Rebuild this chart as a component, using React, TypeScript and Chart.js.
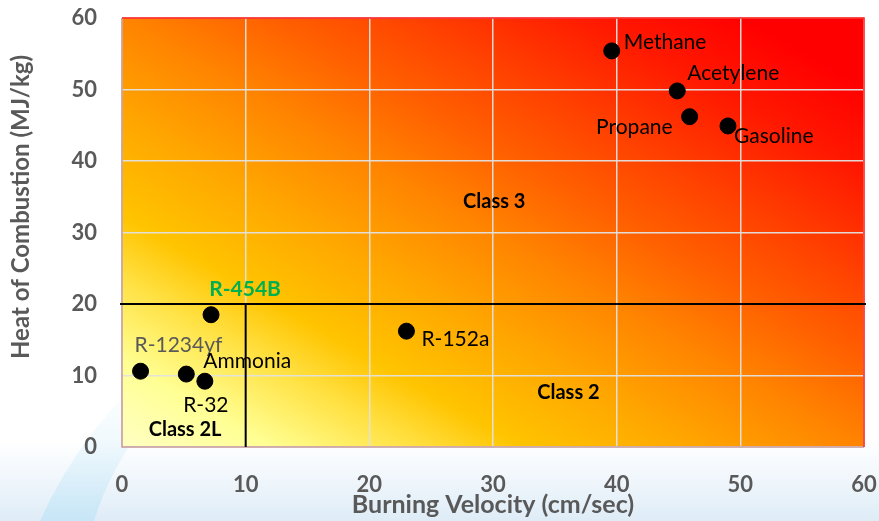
import React, { useEffect, useRef } from 'react';
import { Chart, registerables } from 'chart.js';

Chart.register(...registerables);

// ---- data ----
const substances = ['Methane', 'Acetylene', 'Propane', 'Gasoline', 'R-152a', 'R-454B', 'R-1234yf', 'Ammonia', 'R-32'];
const burningVelocity = [39.6, 44.9, 45.9, 49.0, 23.0, 7.2, 1.5, 5.2, 6.7];
const heatOfCombustion = [55.4, 49.8, 46.2, 44.9, 16.2, 18.5, 10.6, 10.2, 9.2];

const classNames = ['Class 3', 'Class 2', 'Class 2L'];
const classVelocity = [30.1, 36.1, 5.1];
const classHeat = [34.3, 7.6, 2.4];

const boundaryHeat = 20;
const boundaryVelocity = 10;

const xAxisTitle = 'Burning Velocity (cm/sec)';
const yAxisTitle = 'Heat of Combustion (MJ/kg)';
const axisMin = 0;
const axisMax = 60;
const tickStep = 10;

// ---- label styling (pixel offsets from each point) ----
const labelStyles: Record<string, { dx: number; dy: number; align: CanvasTextAlign; color?: string; bold?: boolean }> = {
  'Methane': { dx: 12, dy: -9, align: 'left' },
  'Acetylene': { dx: 10, dy: -18, align: 'left' },
  'Propane': { dx: -17, dy: 11, align: 'right' },
  'Gasoline': { dx: 6, dy: 10, align: 'left' },
  'R-152a': { dx: 15, dy: 8, align: 'left' },
  'R-454B': { dx: 34, dy: -25, align: 'center', color: '#00b050', bold: true },
  'R-1234yf': { dx: -6, dy: -26, align: 'left', color: '#595959' },
  'Ammonia': { dx: 17, dy: -13, align: 'left' },
  'R-32': { dx: 1, dy: 24, align: 'center' },
};

const FONT = 'Lato, "Open Sans", sans-serif';
const GRAY = '#595959';

const decorPlugin = {
  id: 'decor',
  beforeDraw(chart: any) {
    const { ctx, chartArea: ca, width, height } = chart;
    ctx.save();
    ctx.fillStyle = '#ffffff';
    ctx.fillRect(0, 0, width, height);
    const bg = ctx.createLinearGradient(0, 440, 0, height);
    bg.addColorStop(0, 'rgba(225,238,248,0)');
    bg.addColorStop(1, 'rgba(222,236,247,1)');
    ctx.fillStyle = bg;
    ctx.fillRect(0, 440, width, height - 440);
    // swoosh
    const sw = ctx.createLinearGradient(0, height, 0, 390);
    sw.addColorStop(0, 'rgba(170,222,246,0.45)');
    sw.addColorStop(1, 'rgba(205,235,250,0.08)');
    ctx.fillStyle = sw;
    ctx.beginPath();
    ctx.moveTo(40, height);
    ctx.quadraticCurveTo(80, 430, 170, 350);
    ctx.lineTo(215, 350);
    ctx.quadraticCurveTo(122, 430, 94, height);
    ctx.closePath();
    ctx.fill();

    // plot-area gradient (diagonal, in normalised plot coordinates)
    const w = ca.right - ca.left;
    const h = ca.bottom - ca.top;
    ctx.beginPath();
    ctx.rect(ca.left, ca.top, w, h);
    ctx.clip();
    ctx.translate(ca.left, ca.bottom);
    ctx.scale(w, -h);
    const g = ctx.createLinearGradient(0, 0, 1, 1);
    const stops: [number, string][] = [
      [0, '#ffffc4'],
      [0.1, '#ffff94'],
      [0.2, '#ffe040'],
      [0.27, '#ffc400'],
      [0.38, '#ffa800'],
      [0.5, '#ff8400'],
      [0.6, '#ff6000'],
      [0.7, '#ff4000'],
      [0.82, '#ff1800'],
      [0.92, '#ff0000'],
      [1, '#ff0000'],
    ];
    stops.forEach(([t, c]) => g.addColorStop(t, c));
    ctx.fillStyle = g;
    ctx.fillRect(0, 0, 1, 1);
    ctx.restore();
  },
  beforeDatasetsDraw(chart: any) {
    const { ctx, chartArea: ca, scales } = chart;
    const xs = scales.x;
    const ys = scales.y;
    ctx.save();
    ctx.lineWidth = 1.5;
    ctx.strokeStyle = '#c99a9a';
    ctx.beginPath();
    ctx.moveTo(ca.left, ca.top);
    ctx.lineTo(ca.left, ca.bottom);
    ctx.lineTo(ca.right, ca.bottom);
    ctx.stroke();
    ctx.strokeStyle = '#ff1a1a';
    ctx.beginPath();
    ctx.moveTo(ca.left, ca.top);
    ctx.lineTo(ca.right, ca.top);
    ctx.lineTo(ca.right, ca.bottom);
    ctx.stroke();
    ctx.strokeStyle = '#000000';
    ctx.lineWidth = 2;
    const yb = ys.getPixelForValue(boundaryHeat);
    const xb = xs.getPixelForValue(boundaryVelocity);
    ctx.beginPath();
    ctx.moveTo(ca.left - 2, yb);
    ctx.lineTo(ca.right + 2, yb);
    ctx.stroke();
    ctx.beginPath();
    ctx.moveTo(xb, yb);
    ctx.lineTo(xb, ys.getPixelForValue(axisMin));
    ctx.stroke();
    ctx.restore();
  },
  afterDatasetsDraw(chart: any) {
    const { ctx, scales } = chart;
    const xs = scales.x;
    const ys = scales.y;
    ctx.save();
    ctx.textBaseline = 'middle';
    substances.forEach((name, i) => {
      const st = labelStyles[name];
      const px = xs.getPixelForValue(burningVelocity[i]);
      const py = ys.getPixelForValue(heatOfCombustion[i]);
      ctx.font = `${st.bold ? 'bold ' : ''}21px ${FONT}`;
      ctx.fillStyle = st.color || '#000000';
      ctx.textAlign = st.align;
      ctx.fillText(name, px + st.dx, py + st.dy);
    });
    ctx.font = `bold 20px ${FONT}`;
    ctx.fillStyle = '#000000';
    ctx.textAlign = 'center';
    classNames.forEach((name, i) => {
      ctx.fillText(name, xs.getPixelForValue(classVelocity[i]), ys.getPixelForValue(classHeat[i]));
    });
    ctx.translate(21, 207);
    ctx.rotate(-Math.PI / 2);
    ctx.font = `bold 24px ${FONT}`;
    ctx.fillStyle = GRAY;
    ctx.textAlign = 'center';
    ctx.fillText(yAxisTitle, 0, 0);
    ctx.restore();
  },
};

export default function App() {
  const canvasRef = useRef<HTMLCanvasElement | null>(null);

  useEffect(() => {
    const canvas = canvasRef.current;
    if (!canvas) return;
    const chart = new Chart(canvas, {
      type: 'scatter',
      data: {
        datasets: [
          {
            label: 'Substances',
            data: substances.map((_, i) => ({ x: burningVelocity[i], y: heatOfCombustion[i] })),
            backgroundColor: '#000000',
            borderColor: '#000000',
            pointRadius: 8,
            pointHoverRadius: 8,
          },
        ],
      },
      options: {
        responsive: false,
        animation: false,
        layout: { padding: 0, autoPadding: false },
        plugins: {
          legend: { display: false },
          tooltip: { enabled: false },
        },
        scales: {
          x: {
            type: 'linear',
            min: axisMin,
            max: axisMax,
            ticks: {
              stepSize: tickStep,
              color: GRAY,
              font: { family: FONT, size: 22, weight: 'bold' },
              padding: 25,
              maxRotation: 0,
            },
            grid: { color: 'rgba(225,225,225,0.95)', lineWidth: 1.5, drawTicks: false },
            border: { display: false },
            title: {
              display: true,
              text: xAxisTitle,
              color: GRAY,
              font: { family: FONT, size: 25, weight: 'bold' },
              padding: { top: 0, bottom: 1 },
            },
            afterFit: (scale: any) => {
              scale.height = 74;
              scale.paddingLeft = 0;
              scale.paddingRight = 15;
            },
          },
          y: {
            type: 'linear',
            min: axisMin,
            max: axisMax,
            ticks: {
              stepSize: tickStep,
              color: GRAY,
              font: { family: FONT, size: 22, weight: 'bold' },
              padding: 25,
            },
            grid: { color: 'rgba(225,225,225,0.95)', lineWidth: 1.5, drawTicks: false },
            border: { display: false },
            title: { display: false, text: yAxisTitle },
            afterFit: (scale: any) => {
              scale.width = 122;
              scale.paddingTop = 18;
              scale.paddingBottom = 0;
            },
          },
        },
      },
      plugins: [decorPlugin],
    });
    return () => chart.destroy();
  }, []);

  return (
    <div style={{ position: 'fixed', left: 0, top: 0, width: 879, height: 521, background: '#fff' }}>
      <canvas ref={canvasRef} width={879} height={521} style={{ display: 'block' }} />
    </div>
  );
}
